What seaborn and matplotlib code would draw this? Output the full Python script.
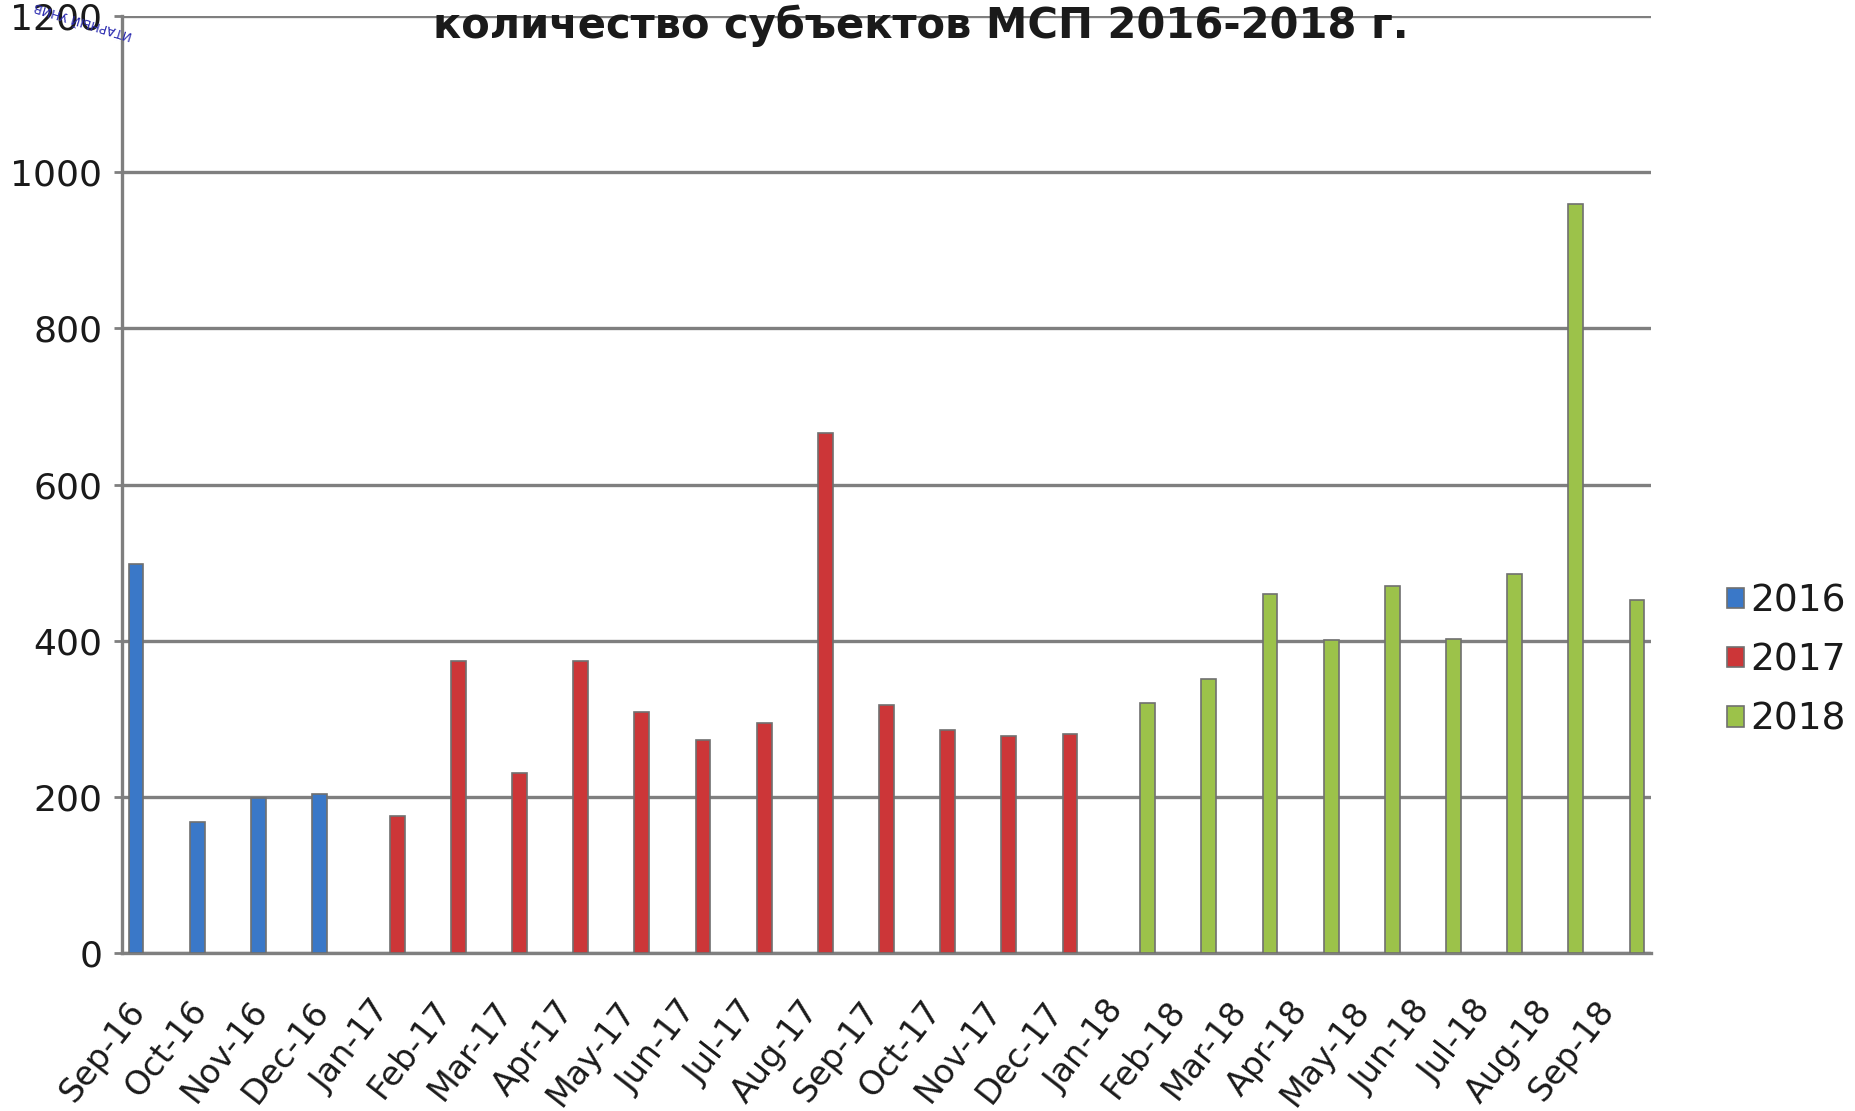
import matplotlib
matplotlib.use("Agg")
import matplotlib.pyplot as plt
import matplotlib.transforms as mtransforms
import seaborn as sns
import pandas as pd

months = ["Sep-16", "Oct-16", "Nov-16", "Dec-16",
          "Jan-17", "Feb-17", "Mar-17", "Apr-17", "May-17", "Jun-17",
          "Jul-17", "Aug-17", "Sep-17", "Oct-17", "Nov-17", "Dec-17",
          "Jan-18", "Feb-18", "Mar-18", "Apr-18", "May-18", "Jun-18",
          "Jul-18", "Aug-18", "Sep-18"]
years = ["2016"] * 4 + ["2017"] * 12 + ["2018"] * 9
values = [498, 168, 198, 204,
          175, 374, 230, 374, 309, 273, 294, 666, 318, 285, 278, 281,
          320, 351, 460, 401, 470, 402, 485, 959, 452]
year_levels = ["2016", "2017", "2018"]
title = "количество субъектов МСП 2016-2018 г."

df = pd.DataFrame({"month": months, "year": years, "value": values})

sns.set_theme(style="white")
plt.rcParams["font.family"] = ["DejaVu Sans"]
plt.rcParams["text.color"] = "#1a1a1a"
plt.rcParams["xtick.color"] = "#1a1a1a"
plt.rcParams["ytick.color"] = "#1a1a1a"

fig = plt.figure(figsize=(18.56, 11.11), dpi=100)
ax = fig.add_axes([0.0657, 0.1422, 0.8239, 0.8434])

palette = {"2016": "#3a78c8", "2017": "#cc3638", "2018": "#9cc24a"}
sns.barplot(data=df, x="month", y="value", hue="year", order=months,
            hue_order=year_levels, palette=palette, dodge=True, saturation=1,
            width=0.81, gap=0.1, edgecolor="#707070", linewidth=1.2,
            errorbar=None, ax=ax, zorder=3)

ax.set_ylim(0, 1200)
ax.set_xlim(-0.5, len(months) - 0.5)
ax.set_yticks(range(0, 1201, 200))
ax.yaxis.grid(True, color="#7f7f7f", linewidth=2.4, zorder=0)
ax.set_axisbelow(True)
for s in ["top", "right"]:
    ax.spines[s].set_visible(False)
for s in ["left", "bottom"]:
    ax.spines[s].set_color("#7f7f7f")
    ax.spines[s].set_linewidth(2.4)
ax.tick_params(axis="y", labelsize=26, left=True, length=6, width=2,
               color="#7f7f7f", pad=8)
ax.tick_params(axis="x", labelsize=24, bottom=False, pad=24)
ax.set_xlabel("")
ax.set_ylabel("")
offset = mtransforms.ScaledTranslation(-0.26, 0, fig.dpi_scale_trans)
for lab in ax.get_xticklabels():
    lab.set_rotation(52)
    lab.set_ha("right")
    lab.set_rotation_mode("anchor")
    lab.set_transform(lab.get_transform() + offset)

leg = ax.legend(loc="center left", bbox_to_anchor=(1.04, 0.312), frameon=False,
                fontsize=27, handlelength=0.45, handleheight=0.45,
                handletextpad=0.15, labelspacing=0.62, borderaxespad=0)

fig.text(0.496, 0.977, title, ha="center", va="center", fontsize=30,
         fontweight="bold")
fig.text(0.045, 0.982, "ИТАРНЫЙ УНИВ", ha="center", va="center", fontsize=9,
         color="#2b2bb0", rotation=-197)

fig.savefig("out.png", dpi=100)
